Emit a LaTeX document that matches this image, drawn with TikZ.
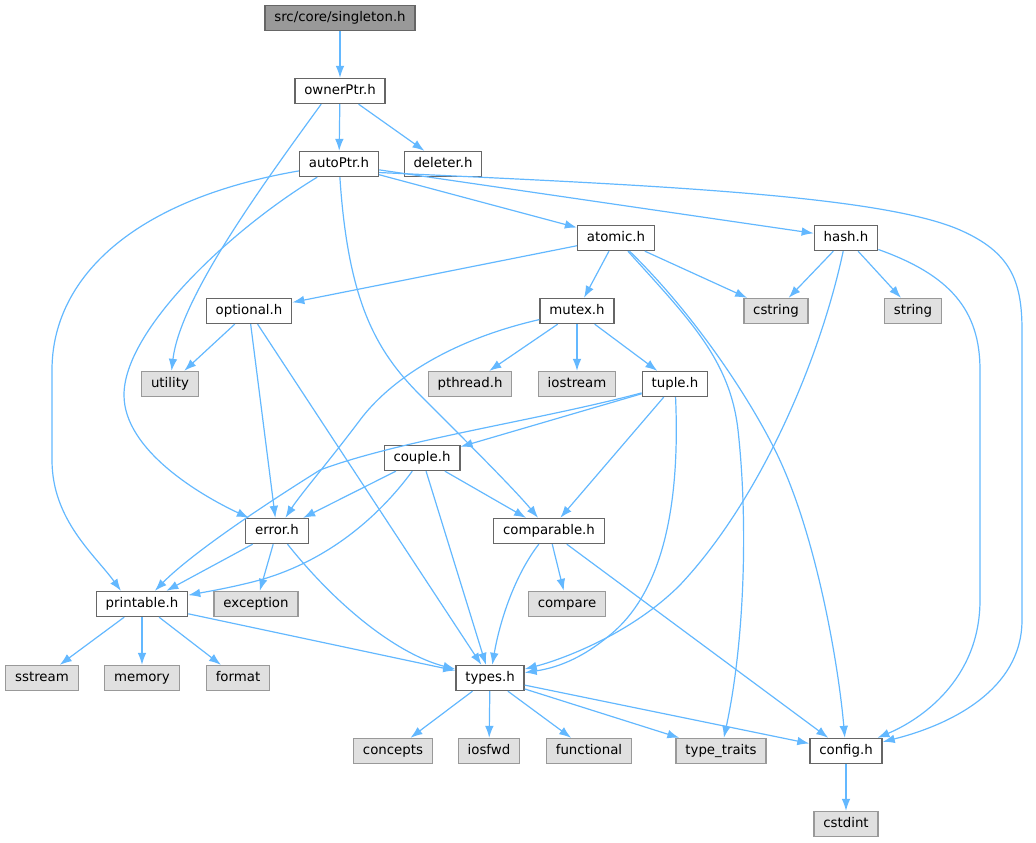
\documentclass[tikz,border=0pt]{standalone}
\usepackage{fontspec}
\setmainfont{DejaVu Sans}
\usepackage{tikz}
\usetikzlibrary{arrows.meta}
\definecolor{edgeblue}{HTML}{63B8FF}
\definecolor{boxgray}{HTML}{666666}
\definecolor{sysgray}{HTML}{999999}
\definecolor{sysfill}{HTML}{E0E0E0}
\tikzset{
  hdr/.style={draw=boxgray, fill=white, line width=1pt, inner xsep=7pt,
    inner ysep=0pt, minimum height=18.75pt, text height=7.3pt, text depth=2.1pt,
    font=\fontsize{10}{12}\selectfont},
  sys/.style={hdr, draw=sysgray, fill=sysfill},
  root/.style={hdr, fill=sysgray},
  dep/.style={draw=edgeblue, line width=0.9pt,
    -{Latex[length=9pt, width=6.5pt, fill=edgeblue]}}
}

\begin{document}
\begin{tikzpicture}[x=0.75pt, y=-0.75pt]
    \useasboundingbox (0,0) rectangle (1036,843);

    \node[root] (singleton) at (340,18) {src/core/singleton.h};
    \node[hdr] (ownerPtr) at (340,91) {ownerPtr.h};
    \node[hdr] (autoPtr) at (339,164) {autoPtr.h};
    \node[hdr] (deleter) at (443,164) {deleter.h};
    \node[hdr] (atomic) at (616,238) {atomic.h};
    \node[hdr] (hash) at (846,238) {hash.h};
    \node[hdr] (optional) at (249,311) {optional.h};
    \node[hdr] (mutex) at (577,311) {mutex.h};
    \node[sys] (cstring) at (776,311) {cstring};
    \node[sys] (string) at (913,311) {string};
    \node[sys] (utility) at (170,384) {utility};
    \node[sys] (pthread) at (470,384) {pthread.h};
    \node[sys] (iostream) at (577,384) {iostream};
    \node[hdr] (tuple) at (675,384) {tuple.h};
    \node[hdr] (couple) at (422,458) {couple.h};
    \node[hdr] (error) at (277,531) {error.h};
    \node[hdr] (comparable) at (549,531) {comparable.h};
    \node[hdr] (printable) at (142,604) {printable.h};
    \node[sys] (exception) at (256,604) {exception};
    \node[sys] (compare) at (567,604) {compare};
    \node[sys] (sstream) at (42,678) {sstream};
    \node[sys] (memory) at (142,678) {memory};
    \node[sys] (format) at (238,678) {format};
    \node[hdr] (types) at (490,678) {types.h};
    \node[sys] (concepts) at (393,751) {concepts};
    \node[sys] (iosfwd) at (489,751) {iosfwd};
    \node[sys] (functional) at (589,751) {functional};
    \node[sys] (typetraits) at (721,751) {type\_traits};
    \node[hdr] (config) at (846,751) {config.h};
    \node[sys] (cstdint) at (846,824) {cstdint};

    % straight includes
    \draw[dep] (singleton) -- (ownerPtr);
    \draw[dep] (ownerPtr) -- (autoPtr);
    \draw[dep] (ownerPtr) -- (deleter);
    \draw[dep] (autoPtr) -- (atomic);
    \draw[dep] (autoPtr) -- (hash);
    \draw[dep] (atomic) -- (optional);
    \draw[dep] (atomic) -- (mutex);
    \draw[dep] (atomic) -- (cstring);
    \draw[dep] (hash) -- (cstring);
    \draw[dep] (hash) -- (string);
    \draw[dep] (optional) -- (utility);
    \draw[dep] (optional) -- (error);
    \draw[dep] (optional) -- (types);
    \draw[dep] (mutex) -- (pthread);
    \draw[dep] (mutex) -- (iostream);
    \draw[dep] (mutex) -- (tuple);
    \draw[dep] (tuple) -- (couple);
    \draw[dep] (tuple) -- (comparable);
    \draw[dep] (couple) -- (error);
    \draw[dep] (couple) -- (comparable);
    \draw[dep] (couple) -- (types);
    \draw[dep] (error) -- (printable);
    \draw[dep] (error) -- (exception);
    \draw[dep] (comparable) -- (compare);
    \draw[dep] (comparable) -- (config);
    \draw[dep] (printable) -- (sstream);
    \draw[dep] (printable) -- (memory);
    \draw[dep] (printable) -- (format);
    \draw[dep] (printable) -- (types);
    \draw[dep] (types) -- (concepts);
    \draw[dep] (types) -- (iosfwd);
    \draw[dep] (types) -- (functional);
    \draw[dep] (types) -- (typetraits);
    \draw[dep] (types) -- (config);
    \draw[dep] (config) -- (cstdint);

    % curved includes
    \draw[dep] (ownerPtr.-145) .. controls (255,195) and (180,300) .. (utility);
    \draw[dep] (autoPtr.-12) .. controls (650,185) and (880,195) .. (960,230)
      .. controls (1010,252) and (1022,280) .. (1022,330) -- (1022,620)
      .. controls (1022,690) and (950,725) .. (config);
    \draw[dep] (autoPtr) .. controls (130,200) and (52,280) .. (52,370) -- (52,460)
      .. controls (52,520) and (95,555) .. (printable.148);
    \draw[dep] (autoPtr) .. controls (230,230) and (124,330) .. (124,395)
      .. controls (124,450) and (200,495) .. (error);
    \draw[dep] (autoPtr) .. controls (348,300) and (375,350) .. (420,395)
      .. controls (470,445) and (515,490) .. (comparable);
    \draw[dep] (atomic) .. controls (690,320) and (730,360) .. (738,430)
      .. controls (748,520) and (745,640) .. (typetraits);
    \draw[dep] (atomic) .. controls (690,310) and (745,390) .. (775,450)
      .. controls (815,530) and (838,660) .. (config);
    \draw[dep] (hash) .. controls (820,360) and (760,500) .. (680,585)
      .. controls (630,635) and (560,660) .. (types);
    \draw[dep] (hash) .. controls (950,275) and (980,310) .. (980,370) -- (980,600)
      .. controls (980,680) and (920,720) .. (config);
    \draw[dep] (mutex) .. controls (450,340) and (390,380) .. (360,420)
      .. controls (330,460) and (300,495) .. (error);
    \draw[dep] (tuple) .. controls (540,420) and (400,440) .. (320,470)
      .. controls (240,520) and (185,560) .. (printable);
    \draw[dep] (tuple) .. controls (680,500) and (665,590) .. (610,635)
      .. controls (580,660) and (555,668) .. (types);
    \draw[dep] (couple) .. controls (380,515) and (330,560) .. (260,580)
      .. controls (230,588) and (205,592) .. (printable);
    \draw[dep] (error) .. controls (340,610) and (400,655) .. (types);
    \draw[dep] (comparable) .. controls (515,575) and (500,620) .. (types);
\end{tikzpicture}
\end{document}
